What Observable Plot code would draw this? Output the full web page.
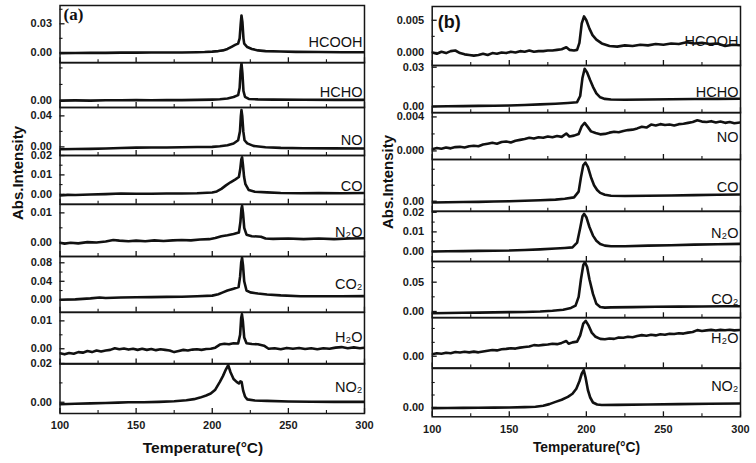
<!DOCTYPE html>
<html><head><meta charset="utf-8">
<script src="https://cdn.jsdelivr.net/npm/d3@7"></script>
<script src="https://cdn.jsdelivr.net/npm/@observablehq/plot@0.6"></script>
<style>
body{margin:0;background:#fff;}
#chart{position:relative;width:756px;height:463px;overflow:hidden;font-family:"Liberation Sans",Arial,sans-serif;color:#111;}
.row{position:absolute;}
.axt{position:absolute;font-weight:bold;white-space:nowrap;line-height:1;transform:translate(-50%,-50%);}
.axt.rot{transform:translate(-50%,-50%) rotate(-90deg);}
</style></head><body><div id="chart"></div>
<script>
// ---------- data ----------
const temperatureTicks = [100, 150, 200, 250, 300];
const temperatureMinorTicks = [125, 175, 225, 275];
const species = ["HCOOH", "HCHO", "NO", "CO", "N₂O", "CO₂", "H₂O", "NO₂"];

// panel (a)
const aHCOOH = [[100,-0.0003],[110,-0.0002],[120,0],[130,-0.0001],[140,0.0002],[150,0.0002],[160,0.0003],[170,0.0003],[180,0.0004],[190,0.0006],[195,0.0008],[200,0.0012],[204,0.0018],[207,0.0025],[210,0.0040],[213,0.0065],[215,0.0082],[217,0.0095],[218,0.015],[218.7,0.030],[219.2,0.0386],[219.8,0.032],[220.5,0.015],[221,0.0095],[223,0.0060],[226,0.0040],[230,0.0025],[235,0.0018],[245,0.0013],[255,0.0010],[270,0.0008],[285,0.0006],[300,0.0006]];
const aHCHO = [[100,0.0002],[110,0.0003],[120,0.0002],[130,0.0004],[140,0.0004],[150,0.0005],[160,0.0004],[170,0.0005],[180,0.0005],[190,0.0006],[200,0.0008],[205,0.0010],[210,0.0015],[214,0.0024],[217,0.0035],[218,0.008],[218.6,0.018],[219.2,0.0227],[219.8,0.017],[220.5,0.006],[221.5,0.0025],[224,0.0012],[230,0.0009],[240,0.0008],[260,0.0007],[280,0.0006],[300,0.0006]];
const aNO = [[100,-0.0030],[110,-0.0028],[120,-0.0025],[130,-0.0020],[140,-0.0015],[150,-0.0010],[160,-0.0008],[170,-0.0008],[180,-0.0005],[190,-0.0002],[200,0],[205,0.0008],[210,0.0022],[214,0.0044],[217,0.0086],[218.2,0.02],[218.8,0.040],[219.2,0.0474],[219.7,0.040],[220.4,0.02],[221.2,0.0086],[223,0.0045],[227,0.0013],[235,-0.0005],[245,-0.0013],[260,-0.0017],[280,-0.0019],[300,-0.0020]];
const aCO = [[100,-0.0006],[105,-0.0003],[110,-0.0004],[120,-0.0001],[130,0.0001],[140,0.0004],[150,0.0003],[160,0.0003],[170,0.0004],[180,0.0004],[190,0.0005],[200,0.0009],[203,0.0015],[206,0.0028],[209,0.0046],[212,0.0062],[215,0.0076],[217.5,0.0089],[218.4,0.013],[219.1,0.018],[219.6,0.0191],[220.2,0.015],[220.9,0.009],[221.8,0.0052],[224,0.0022],[228,0.0013],[236,0.0010],[245,0.0007],[258,0.0005],[270,0.0006],[285,0.0005],[300,0.0007]];
const aN2O = [[100,0],[103,-0.0003],[107,0],[112,-0.0002],[118,0.0002],[124,0.0001],[130,0.0004],[135,0.0009],[139,0.0007],[145,0.0005],[150,0.0007],[156,0.0005],[162,0.0008],[168,0.0006],[174,0.0008],[180,0.0009],[186,0.0008],[192,0.0011],[198,0.0012],[202,0.0016],[206,0.0022],[210,0.0025],[214,0.0029],[217.5,0.0034],[218.5,0.007],[219.2,0.0115],[219.6,0.0124],[220.2,0.010],[221,0.0050],[222.5,0.0027],[226,0.0022],[232,0.0020],[235,0.0014],[240,0.0013],[250,0.0014],[260,0.0012],[270,0.0014],[280,0.0012],[290,0.0014],[300,0.0015]];
const aCO2 = [[100,0],[110,0.0010],[120,0.0030],[126,0.0050],[130,0.0040],[140,0.0050],[150,0.0055],[160,0.0058],[170,0.0062],[180,0.0065],[190,0.0075],[200,0.0090],[204,0.0120],[207,0.0160],[210,0.0200],[214,0.0240],[217.3,0.0275],[218.3,0.05],[219,0.080],[219.6,0.0908],[220.2,0.075],[221,0.040],[222.5,0.020],[225,0.0160],[230,0.0135],[236,0.0115],[245,0.0095],[258,0.0078],[270,0.0075],[285,0.0078],[300,0.0080]];
const aH2O = [[100,-0.0016],[103,-0.0020],[106,-0.0015],[109,-0.0018],[112,-0.0012],[115,-0.0014],[118,-0.0008],[121,-0.0012],[124,-0.0006],[127,-0.0010],[130,-0.0006],[133,-0.0004],[136,0.0002],[139,-0.0002],[142,0.0001],[145,-0.0003],[148,0],[151,-0.0004],[154,0],[157,-0.0004],[160,-0.0001],[163,-0.0005],[166,-0.0002],[169,-0.0004],[172,-0.0006],[175,-0.0012],[178,-0.0008],[181,-0.0004],[184,-0.0006],[187,-0.0003],[190,-0.0002],[193,-0.0004],[196,-0.0001],[199,0],[202,0.0004],[205,0.0015],[208,0.0018],[211,0.0016],[214,0.0020],[217,0.0019],[218.3,0.005],[219,0.011],[219.5,0.0124],[220.1,0.010],[221,0.004],[222.5,0.0020],[226,0.0017],[230,0.0016],[234,0.0011],[237,0],[241,0.0002],[245,-0.0002],[249,0.0003],[253,0],[257,0.0003],[261,-0.0001],[265,0.0002],[269,-0.0002],[273,0.0002],[277,0],[281,0.0004],[285,0.0006],[289,0.0002],[293,0.0005],[297,0.0002],[300,0.0004]];
const aNO2 = [[100,-0.0010],[110,-0.0008],[120,-0.0006],[130,-0.0004],[138,-0.0002],[145,0],[155,0],[165,0.0002],[175,0.0005],[183,0.0010],[188,0.0016],[192,0.0024],[196,0.0035],[199,0.0045],[202,0.0065],[205,0.0105],[207,0.0135],[209,0.0170],[210.5,0.0191],[212,0.0155],[214,0.0120],[216,0.0105],[217.5,0.0097],[218.5,0.0108],[219.3,0.0105],[220.3,0.0060],[221.5,0.0030],[223,0.0015],[228,0.0009],[236,0.0007],[250,0.0004],[265,0.0003],[280,0.0002],[300,0.0002]];

// panel (b)
const bHCOOH = [[100,0],[103,-0.0002],[106,0.0001],[109,-0.0001],[112,0.0002],[115,0.0003],[118,-0.0001],[121,-0.0003],[124,-0.0004],[127,-0.0005],[130,-0.0004],[133,-0.0002],[136,-0.0004],[139,-0.0001],[142,-0.0002],[145,0],[148,-0.0001],[151,0.0001],[154,0],[157,0.0002],[160,0.0001],[163,0.0003],[166,0.0001],[169,0.0002],[172,0.0002],[175,0.0003],[178,0.0003],[181,0.0004],[184,0.0005],[187,0.0008],[189,0.0004],[192,0.0003],[194,0.0004],[195.5,0.0015],[197,0.0045],[198.5,0.0056],[200,0.0050],[202,0.0037],[204,0.0027],[206.5,0.0020],[210,0.0014],[215,0.0010],[220,0.0009],[225,0.0011],[230,0.0010],[235,0.0012],[240,0.0011],[245,0.0013],[250,0.0012],[255,0.0014],[260,0.0013],[265,0.0016],[270,0.0014],[275,0.0015],[280,0.0013],[285,0.0014],[290,0.0010],[295,0.0012],[300,0.0011]];
const bHCHO = [[100,0],[110,0.0002],[120,0.0003],[130,0.0005],[140,0.0006],[150,0.0008],[160,0.0012],[170,0.0016],[180,0.0021],[188,0.0027],[194,0.0033],[196,0.0080],[197.5,0.022],[198.9,0.0288],[200.5,0.026],[202.5,0.020],[204.3,0.0150],[206.5,0.0100],[209,0.0070],[212,0.0058],[216,0.0053],[225,0.0052],[240,0.0054],[255,0.0055],[270,0.0057],[285,0.0058],[300,0.0059]];
const bNO = [[100,0.00020],[103,0.00035],[106,0.00025],[109,0.00040],[112,0.00030],[115,0.00045],[118,0.00048],[121,0.00040],[124,0.00055],[127,0.00060],[130,0.00055],[133,0.00075],[136,0.00085],[139,0.00095],[142,0.00085],[145,0.00105],[148,0.00110],[151,0.00100],[154,0.00120],[157,0.00130],[160,0.00140],[163,0.00155],[166,0.00145],[169,0.00160],[172,0.00155],[175,0.00170],[178,0.00160],[181,0.00175],[184,0.00165],[187,0.00205],[189,0.00170],[192,0.00180],[195,0.00200],[197,0.00290],[198.9,0.00330],[201,0.00280],[203,0.00230],[206,0.00210],[209,0.00195],[212,0.00200],[215,0.00215],[218,0.00225],[221,0.00220],[224,0.00235],[227,0.00245],[230,0.00250],[233,0.00265],[236,0.00285],[239,0.00275],[242,0.00310],[245,0.00300],[248,0.00315],[251,0.00305],[254,0.00310],[257,0.00300],[260,0.00315],[263,0.00320],[266,0.00330],[269,0.00340],[272,0.00360],[275,0.00345],[278,0.00340],[281,0.00350],[284,0.00335],[287,0.00345],[290,0.00330],[293,0.00340],[296,0.00325],[300,0.00335]];
const bCO = [[100,-0.0008],[110,-0.0007],[120,-0.0005],[130,-0.0004],[140,-0.0002],[150,0],[160,0.0003],[170,0.0006],[180,0.0010],[186,0.0015],[192,0.0024],[195,0.0060],[196.5,0.0150],[198,0.0225],[199.4,0.0242],[201,0.0215],[203,0.0150],[205,0.0100],[207,0.0070],[209,0.0052],[212,0.0040],[216,0.0034],[225,0.0033],[240,0.0034],[255,0.0036],[270,0.0038],[285,0.0040],[300,0.0042]];
const bN2O = [[100,0],[110,0.0001],[120,0.0002],[130,0.0003],[140,0.0004],[150,0.0005],[160,0.0008],[170,0.0011],[180,0.0015],[186,0.0018],[191,0.0021],[194,0.0045],[196,0.0120],[197.5,0.0180],[198.5,0.0192],[200,0.0175],[202,0.0125],[204.3,0.0081],[206.5,0.0055],[209,0.0038],[212,0.0030],[216,0.0027],[225,0.0027],[240,0.0030],[255,0.0032],[270,0.0035],[285,0.0037],[300,0.0039]];
const bCO2 = [[100,-0.0030],[110,-0.0027],[120,-0.0022],[130,-0.0020],[140,-0.0016],[150,-0.0012],[160,-0.0008],[170,0],[178,0.0012],[185,0.0029],[190,0.0060],[193,0.0100],[195,0.0250],[196.5,0.0550],[198,0.0790],[199.1,0.0841],[200.5,0.0760],[202,0.0550],[204.3,0.0300],[206.5,0.0130],[209,0.0075],[212,0.0065],[216,0.0070],[230,0.0075],[245,0.0080],[260,0.0083],[275,0.0086],[290,0.0089],[300,0.0090]];
const bH2O = [[100,0.0015],[103,0.0022],[106,0.0018],[109,0.0025],[112,0.0022],[115,0.0030],[118,0.0027],[121,0.0032],[124,0.0028],[127,0.0033],[130,0.0028],[133,0.0034],[136,0.0040],[139,0.0045],[142,0.0042],[145,0.0050],[148,0.0053],[151,0.0057],[154,0.0055],[157,0.0062],[160,0.0066],[163,0.0070],[166,0.0080],[169,0.0077],[172,0.0082],[175,0.0085],[178,0.0090],[181,0.0087],[184,0.0096],[187,0.0110],[188.5,0.0090],[191,0.0100],[194,0.0105],[196,0.0150],[198,0.0235],[199.6,0.0255],[201.5,0.0220],[203.5,0.0170],[206,0.0140],[209,0.0125],[212,0.0122],[215,0.0128],[218,0.0125],[221,0.0135],[224,0.0133],[227,0.0140],[230,0.0137],[233,0.0145],[236,0.0152],[239,0.0148],[242,0.0155],[245,0.0150],[248,0.0158],[251,0.0155],[254,0.0162],[257,0.0160],[260,0.0166],[263,0.0163],[266,0.0170],[269,0.0175],[272,0.0188],[275,0.0182],[278,0.0186],[281,0.0190],[284,0.0185],[287,0.0190],[290,0.0187],[293,0.0191],[296,0.0186],[300,0.0189]];
const bNO2 = [[100,-0.0005],[110,-0.0004],[120,-0.0003],[130,-0.0002],[140,-0.0001],[150,0],[160,0.0003],[167,0.0006],[172,0.0014],[176,0.0027],[180,0.0045],[184,0.0062],[188,0.0085],[191,0.0110],[193.5,0.0150],[195.5,0.0210],[197,0.0270],[198.3,0.0299],[199.5,0.0240],[201,0.0140],[202.5,0.0080],[204.3,0.0040],[207,0.0024],[210,0.0020],[220,0.0021],[240,0.0024],[260,0.0027],[280,0.0030],[300,0.0032]];

// y-axis domains and ticks read from each strip
const aDomains = [[-0.0103,0.0489],[-0.0040,0.0233],[-0.0111,0.0508],[-0.0051,0.0200],[-0.0046,0.0128],[-0.0268,0.0936],[-0.0055,0.0130],[-0.0058,0.0200]];
const aLabeledTicks = [[0,0.03],[0],[0,0.04],[0,0.01,0.02],[0,0.01],[0,0.04,0.08],[0,0.01],[0,0.02]];
const aMinorTicks = [[0.015,0.045],[0.01,0.02],[0.02],[0.005,0.015],[0.005],[0.02,0.06],[0.005],[0.01]];
const aDecimals = [2,2,2,2,2,2,2,2];
const bDomains = [[-0.00203,0.00714],[-0.0048,0.0313],[-0.00101,0.00452],[-0.00625,0.0261],[-0.0051,0.0204],[-0.0108,0.0853],[-0.0084,0.0279],[-0.00744,0.0312]];
const bLabeledTicks = [[0,0.005],[0,0.03],[0,0.004],[0],[0,0.01,0.02],[0,0.05],[0],[0]];
const bMinorTicks = [[0.0025],[0.015],[0.002],[0.01,0.02],[0.005,0.015],[0.025,0.075],[0.01,0.02],[0.01,0.02]];
const bDecimals = [3,2,3,2,2,2,2,2];

// ---------- layout ----------
const panels = [
  {tag:"(a)", tagFont:"'Liberation Serif','Times New Roman',serif", tagSize:17, tagDx:3.5, tagDy:14.5,
   left:0, frameLeft:59.5, frameRight:364,
   tops:[5,62.3,107.3,155.3,204,256,311.7,363.3,413.3],
   series:[aHCOOH,aHCHO,aNO,aCO,aN2O,aCO2,aH2O,aNO2],
   domains:aDomains, labeled:aLabeledTicks, minor:aMinorTicks, decimals:aDecimals,
   labelLift:[15.6,10.6,10.3,13,20,23.4,22,21.6]},
  {tag:"(b)", tagFont:"'Liberation Sans',Arial,sans-serif", tagSize:18, tagDx:5.5, tagDy:21,
   left:376, frameLeft:431.7, frameRight:740,
   tops:[6,65,112.3,159.3,211,261,317.3,367.7,416],
   series:[bHCOOH,bHCHO,bNO,bCO,bN2O,bCO2,bH2O,bNO2],
   domains:bDomains, labeled:bLabeledTicks, minor:bMinorTicks, decimals:bDecimals,
   labelLift:[20,15.6,17.6,19.3,23.7,13.3,24.4,25.3]}
];

const chart = document.getElementById("chart");
const ink = "#151515";

for (const p of panels) {
  for (let i = 0; i < 8; i++) {
    const top = p.tops[i], h = p.tops[i+1] - top;
    const last = i === 7;
    const mb = last ? 32 : 0;
    const marginLeft = p.frameLeft - p.left;
    const marginRight = 14;
    const width = marginLeft + (p.frameRight - p.frameLeft) + marginRight;
    const frameW = p.frameRight - p.frameLeft;
    const data = p.series[i].map(([t, v]) => ({t, v}));
    const fmt = d3.format(`.${p.decimals[i]}f`);
    const marks = [
      Plot.tickY(p.labeled[i], {y: d => d, insetRight: frameW - 5, stroke: ink, strokeWidth: 1.3}),
      Plot.tickY(p.minor[i], {y: d => d, insetRight: frameW - 3, stroke: ink, strokeWidth: 1.1}),
      Plot.tickX(temperatureTicks, {x: d => d, insetTop: h - 5, stroke: ink, strokeWidth: 1.3}),
      Plot.tickX(temperatureMinorTicks, {x: d => d, insetTop: h - 3, stroke: ink, strokeWidth: 1.1}),
      Plot.axisY(p.labeled[i], {tickSize: 0, tickPadding: 8, tickFormat: fmt, label: null, fill: "#1a1a1a"}),
      Plot.line(data, {x: "t", y: "v", stroke: "#111", strokeWidth: 2.6, clip: true}),
      Plot.frame({stroke: ink, strokeWidth: 1.5}),
      Plot.text([species[i]], {text: d => d, frameAnchor: "bottom-right", textAnchor: "end", lineAnchor: "bottom",
        dx: -2, dy: -p.labelLift[i], fontSize: 14.5, fontWeight: "normal", fill: "#111"})
    ];
    if (last) marks.push(Plot.axisX(temperatureTicks, {tickSize: 0, tickPadding: 8, label: null, fill: "#1a1a1a"}));
    if (i === 0) marks.push(Plot.text([p.tag], {text: d => d, frameAnchor: "top-left", textAnchor: "start", lineAnchor: "bottom",
      dx: p.tagDx, dy: p.tagDy, fontSize: p.tagSize, fontWeight: "bold", fontFamily: p.tagFont, fill: "#111"}));
    const svg = Plot.plot({
      width, height: h + mb, marginLeft, marginRight, marginTop: 0, marginBottom: mb,
      x: {domain: [100, 300], axis: null},
      y: {domain: p.domains[i], axis: null},
      style: {background: "none", overflow: "visible", maxWidth: "none",
        fontFamily: "'Liberation Sans',Arial,sans-serif", fontSize: "11px", fontWeight: "bold"},
      marks
    });
    const div = document.createElement("div");
    div.className = "row";
    div.style.left = p.left + "px";
    div.style.top = top + "px";
    div.style.width = width + "px";
    div.appendChild(svg);
    chart.appendChild(div);
  }
}

function addText(txt, x, y, size, rot) {
  const d = document.createElement("div");
  d.className = "axt" + (rot ? " rot" : "");
  d.style.left = x + "px";
  d.style.top = y + "px";
  d.style.fontSize = size + "px";
  d.textContent = txt;
  chart.appendChild(d);
}
addText("Temperature(°C)", 203, 448, 15.5, false);
addText("Temperature(°C)", 586.5, 448, 13.8, false);
addText("Abs.Intensity", 17, 172.5, 15, true);
addText("Abs.Intensity", 387, 181.5, 15, true);
</script></body></html>
